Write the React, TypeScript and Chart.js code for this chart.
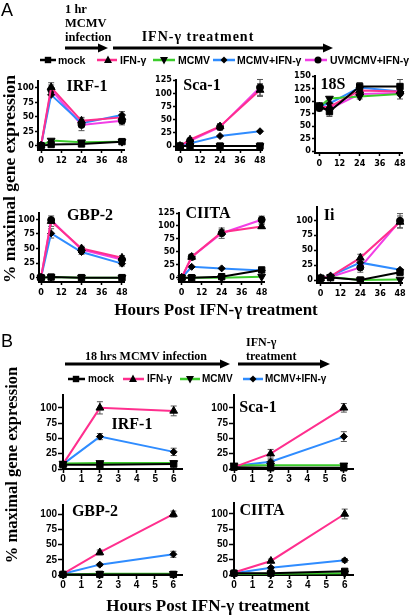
import React, { useEffect, useRef } from "react";
import { Chart, registerables } from "chart.js";
Chart.register(...registerables);

const W = 410;
const H = 616;

// ---------- Panel A (1 hr MCMV, then IFN-γ) ----------
const hoursA = [0, 6, 24, 48];
const hourTicksA = [0, 12, 24, 36, 48];

const aIrf1Mock = [0, 2, 3, 7];
const aIrf1Ifn = [0, 101, 43, 49];
const aIrf1Mcmv = [0, 9, 6, 7];
const aIrf1McmvIfn = [0, 88, 39, 53];
const aIrf1Uv = [0, 97, 36, 43];
const aIrf1IfnErr = [0, 8, 6, 10];
const aIrf1UvErr = [0, 8, 10, 7];

const aSca1Mock = [0, 0, 0, 0];
const aSca1Ifn = [0, 12, 37, 106];
const aSca1Mcmv = [0, 0, 0, 0];
const aSca1McmvIfn = [0, 5, 19, 28];
const aSca1Uv = [0, 10, 36, 111];
const aSca1IfnErr = [0, 3, 5, 12];
const aSca1UvErr = [0, 3, 6, 15];

const a18sMock = [90, 79, 129, 129];
const a18sIfn = [88, 88, 121, 119];
const a18sMcmv = [88, 105, 109, 114];
const a18sMcmvIfn = [90, 95, 127, 119];
const a18sUv = [86, 84, 114, 116];
const a18sMockErr = [6, 10, 8, 14];
const a18sUvErr = [6, 12, 10, 12];

const aGbp2Mock = [0, 1, 0, 0];
const aGbp2Ifn = [0, 97, 50, 34];
const aGbp2Mcmv = [0, 1, 0, 0];
const aGbp2McmvIfn = [0, 76, 44, 24];
const aGbp2Uv = [0, 99, 48, 31];
const aGbp2IfnErr = [0, 9, 4, 4];
const aGbp2McmvIfnErr = [0, 8, 4, 4];

const aCiitaMock = [0, 0, 2, 15];
const aCiitaIfn = [0, 40, 88, 99];
const aCiitaMcmv = [0, 0, 0, 2];
const aCiitaMcmvIfn = [0, 21, 18, 14];
const aCiitaUv = [0, 40, 86, 112];
const aCiitaIfnErr = [0, 5, 5, 4];
const aCiitaUvErr = [0, 5, 10, 7];

const aIiMock = [3, 4, 0, 13];
const aIiIfn = [3, 6, 37, 97];
const aIiMcmv = [3, 5, 0, 1];
const aIiMcmvIfn = [3, 7, 29, 17];
const aIiUv = [3, 5, 21, 99];
const aIiIfnErr = [0, 3, 6, 10];
const aIiUvErr = [0, 4, 8, 12];

// ---------- Panel B (18 hrs MCMV, then IFN-γ) ----------
const hoursB = [0, 2, 6];
const hourTicksB = [0, 1, 2, 3, 4, 5, 6];

const bIrf1Mock = [7, 7, 8];
const bIrf1Ifn = [8, 100, 95];
const bIrf1Mcmv = [9, 10, 10];
const bIrf1McmvIfn = [8, 53, 28];
const bIrf1IfnErr = [0, 10, 8];
const bIrf1McmvIfnErr = [0, 5, 6];

const bSca1Mock = [3, 2, 2];
const bSca1Ifn = [3, 25, 100];
const bSca1Mcmv = [6, 6, 6];
const bSca1McmvIfn = [5, 12, 53];
const bSca1IfnErr = [0, 7, 7];
const bSca1McmvIfnErr = [0, 4, 8];

const bGbp2Mock = [1, 1, 1];
const bGbp2Ifn = [2, 37, 100];
const bGbp2Mcmv = [1, 2, 2];
const bGbp2McmvIfn = [2, 17, 34];
const bGbp2IfnErr = [0, 4, 5];
const bGbp2McmvIfnErr = [0, 2, 5];

const bCiitaMock = [3, 3, 6];
const bCiitaIfn = [4, 23, 100];
const bCiitaMcmv = [2, 2, 3];
const bCiitaMcmvIfn = [3, 12, 24];
const bCiitaIfnErr = [0, 3, 8];
const bCiitaMcmvIfnErr = [0, 2, 3];

const pctTicks = [0, 25, 50, 75, 100];
const pctTicks125 = [0, 25, 50, 75, 100, 125];
const pctTicks150 = [0, 25, 50, 75, 100, 125, 150];

// ---------- styles ----------
const PINK = "#ff2f8e";
const MAGENTA = "#f23ee6";
const GREEN = "#3ccc2c";
const BLUE = "#2f8cff";

const SERIES: Record<string, any> = {
  mock: { color: "#000000", style: "rect", rot: 0, r: 4.5 },
  ifn: { color: PINK, style: "triangle", rot: 0, r: 4.5 },
  mcmv: { color: GREEN, style: "triangle", rot: 180, r: 4.5 },
  mcmvIfn: { color: BLUE, style: "rectRot", rot: 0, r: 3.5 },
  uv: { color: MAGENTA, style: "circle", rot: 0, r: 3.5 },
};

const SERIF = '"Liberation Serif", "Times New Roman", Times, serif';
const SANS = '"Liberation Sans", Arial, Helvetica, sans-serif';
const NARROW = '"Liberation Sans Narrow", "Arial Narrow", "DejaVu Sans Condensed", "Liberation Sans", Arial, sans-serif';

type S = { key: string; values: number[]; err?: number[] };
type Spec = {
  x: number[];
  xt: number[];
  yt: number[];
  area: [number, number, number, number];
  xr: [number, number];
  yr: [number, number];
  kind: "A" | "B";
  series: S[];
};

const PANELS: Spec[] = [
  {
    kind: "A", x: hoursA, xt: hourTicksA, yt: pctTicks,
    area: [38, 81, 124, 150], xr: [-1.8, 49.2], yr: [-7.5, 112],
    series: [
      { key: "mock", values: aIrf1Mock },
      { key: "ifn", values: aIrf1Ifn, err: aIrf1IfnErr },
      { key: "mcmv", values: aIrf1Mcmv },
      { key: "mcmvIfn", values: aIrf1McmvIfn },
      { key: "uv", values: aIrf1Uv, err: aIrf1UvErr },
    ],
  },
  {
    kind: "A", x: hoursA, xt: hourTicksA, yt: pctTicks125,
    area: [176, 80, 262, 150], xr: [-2.4, 49.2], yr: [-7.5, 125],
    series: [
      { key: "mock", values: aSca1Mock },
      { key: "ifn", values: aSca1Ifn, err: aSca1IfnErr },
      { key: "mcmv", values: aSca1Mcmv },
      { key: "mcmvIfn", values: aSca1McmvIfn },
      { key: "uv", values: aSca1Uv, err: aSca1UvErr },
    ],
  },
  {
    kind: "A", x: hoursA, xt: hourTicksA, yt: pctTicks150,
    area: [315, 76, 402, 153], xr: [-2.6, 49.2], yr: [-4, 150],
    series: [
      { key: "mock", values: a18sMock, err: a18sMockErr },
      { key: "ifn", values: a18sIfn },
      { key: "mcmv", values: a18sMcmv },
      { key: "mcmvIfn", values: a18sMcmvIfn },
      { key: "uv", values: a18sUv, err: a18sUvErr },
    ],
  },
  {
    kind: "A", x: hoursA, xt: hourTicksA, yt: pctTicks,
    area: [39, 213, 124, 282], xr: [-1.2, 49.2], yr: [-7.5, 111],
    series: [
      { key: "mock", values: aGbp2Mock },
      { key: "ifn", values: aGbp2Ifn, err: aGbp2IfnErr },
      { key: "mcmv", values: aGbp2Mcmv },
      { key: "mcmvIfn", values: aGbp2McmvIfn, err: aGbp2McmvIfnErr },
      { key: "uv", values: aGbp2Uv },
    ],
  },
  {
    kind: "A", x: hoursA, xt: hourTicksA, yt: pctTicks125,
    area: [179, 213, 264, 282], xr: [-1.6, 49.4], yr: [-8.3, 125],
    series: [
      { key: "mock", values: aCiitaMock },
      { key: "ifn", values: aCiitaIfn, err: aCiitaIfnErr },
      { key: "mcmv", values: aCiitaMcmv },
      { key: "mcmvIfn", values: aCiitaMcmvIfn },
      { key: "uv", values: aCiitaUv, err: aCiitaUvErr },
    ],
  },
  {
    kind: "A", x: hoursA, xt: hourTicksA, yt: pctTicks,
    area: [317, 207, 402, 283], xr: [-2.2, 49.2], yr: [-5, 122],
    series: [
      { key: "mock", values: aIiMock },
      { key: "ifn", values: aIiIfn, err: aIiIfnErr },
      { key: "mcmv", values: aIiMcmv },
      { key: "mcmvIfn", values: aIiMcmvIfn },
      { key: "uv", values: aIiUv, err: aIiUvErr },
    ],
  },
  {
    kind: "B", x: hoursB, xt: hourTicksB, yt: pctTicks,
    area: [63, 395, 182, 469], xr: [0, 6.45], yr: [0, 121],
    series: [
      { key: "mock", values: bIrf1Mock },
      { key: "ifn", values: bIrf1Ifn, err: bIrf1IfnErr },
      { key: "mcmv", values: bIrf1Mcmv },
      { key: "mcmvIfn", values: bIrf1McmvIfn, err: bIrf1McmvIfnErr },
    ],
  },
  {
    kind: "B", x: hoursB, xt: hourTicksB, yt: pctTicks,
    area: [234, 395, 353, 469], xr: [0, 6.5], yr: [0, 121],
    series: [
      { key: "mock", values: bSca1Mock },
      { key: "ifn", values: bSca1Ifn, err: bSca1IfnErr },
      { key: "mcmv", values: bSca1Mcmv },
      { key: "mcmvIfn", values: bSca1McmvIfn, err: bSca1McmvIfnErr },
    ],
  },
  {
    kind: "B", x: hoursB, xt: hourTicksB, yt: pctTicks,
    area: [63, 505, 182, 575], xr: [0, 6.47], yr: [0, 115],
    series: [
      { key: "mock", values: bGbp2Mock },
      { key: "ifn", values: bGbp2Ifn, err: bGbp2IfnErr },
      { key: "mcmv", values: bGbp2Mcmv },
      { key: "mcmvIfn", values: bGbp2McmvIfn, err: bGbp2McmvIfnErr },
    ],
  },
  {
    kind: "B", x: hoursB, xt: hourTicksB, yt: pctTicks,
    area: [234, 503, 353, 575], xr: [0, 6.45], yr: [0, 118],
    series: [
      { key: "mock", values: bCiitaMock },
      { key: "ifn", values: bCiitaIfn, err: bCiitaIfnErr },
      { key: "mcmv", values: bCiitaMcmv },
      { key: "mcmvIfn", values: bCiitaMcmvIfn, err: bCiitaMcmvIfnErr },
    ],
  },
];

const errorBars = {
  id: "errorBars",
  beforeDatasetsDraw(chart: any) {
    const ctx = chart.ctx;
    const ys = chart.scales.y;
    chart.data.datasets.forEach((ds: any, i: number) => {
      const err = ds.errors;
      if (!err) return;
      const meta = chart.getDatasetMeta(i);
      ctx.save();
      ctx.strokeStyle = "#555";
      ctx.lineWidth = 1;
      meta.data.forEach((pt: any, j: number) => {
        const e = err[j];
        if (!e) return;
        const v = ds.data[j].y;
        const top = ys.getPixelForValue(v + e);
        const bot = ys.getPixelForValue(v - e);
        ctx.beginPath();
        ctx.moveTo(pt.x, top);
        ctx.lineTo(pt.x, bot);
        ctx.moveTo(pt.x - 3, top);
        ctx.lineTo(pt.x + 3, top);
        ctx.moveTo(pt.x - 3, bot);
        ctx.lineTo(pt.x + 3, bot);
        ctx.stroke();
      });
      ctx.restore();
    });
  },
};

function buildConfig(p: Spec): any {
  const [l, t, r, b] = p.area;
  const yW = 30;
  const xH = 22;
  const isA = p.kind === "A";
  const tickFont = isA
    ? { family: NARROW, size: 9, weight: "bold" as const }
    : { family: SANS, size: 10, weight: "bold" as const };
  return {
    type: "line",
    data: {
      datasets: p.series.map((s) => {
        const st = SERIES[s.key];
        return {
          data: s.values.map((v, i) => ({ x: p.x[i], y: v })),
          errors: s.err,
          borderColor: st.color,
          backgroundColor: "#000",
          borderWidth: 2,
          pointStyle: st.style,
          pointRotation: st.rot,
          pointRadius: st.r,
          pointBackgroundColor: "#000",
          pointBorderColor: "#000",
          pointBorderWidth: 1,
          tension: 0,
          fill: false,
          clip: false,
        };
      }),
    },
    options: {
      animation: false,
      responsive: false,
      devicePixelRatio: 1,
      events: [],
      layout: { padding: { left: l - yW, top: t, right: W - r, bottom: H - b - xH } },
      plugins: { legend: { display: false }, tooltip: { enabled: false }, title: { display: false } },
      scales: {
        x: {
          type: "linear",
          min: p.xr[0],
          max: p.xr[1],
          afterBuildTicks: (sc: any) => { sc.ticks = p.xt.map((v) => ({ value: v })); },
          afterFit: (sc: any) => { sc.height = xH; },
          grid: { display: true, drawOnChartArea: false, drawTicks: true, tickLength: isA ? 3 : 4, tickWidth: 1.5, tickColor: "#000", color: "#000" },
          border: { display: true, color: "#000", width: 2 },
          ticks: { font: tickFont, color: "#000", padding: isA ? 2 : 0, autoSkip: false, maxRotation: 0, minRotation: 0, callback: (v: any) => String(v) },
        },
        y: {
          type: "linear",
          min: p.yr[0],
          max: p.yr[1],
          afterBuildTicks: (sc: any) => { sc.ticks = p.yt.map((v) => ({ value: v })); },
          afterFit: (sc: any) => { sc.width = yW; },
          grid: { display: true, drawOnChartArea: false, drawTicks: true, tickLength: isA ? 3 : 5, tickWidth: 1.5, tickColor: "#000", color: "#000" },
          border: { display: true, color: "#000", width: 2 },
          ticks: { font: tickFont, color: "#000", padding: 1, autoSkip: false, callback: (v: any) => String(v) },
        },
      },
    },
    plugins: [errorBars],
  };
}

function ChartLayer({ spec }: { spec: Spec }) {
  const ref = useRef<HTMLCanvasElement | null>(null);
  useEffect(() => {
    if (!ref.current) return;
    const chart = new Chart(ref.current, buildConfig(spec));
    return () => chart.destroy();
  }, [spec]);
  return (
    <canvas
      ref={ref}
      width={W}
      height={H}
      style={{ position: "absolute", left: 0, top: 0, width: W, height: H }}
    />
  );
}

function Txt(props: {
  x: number; y: number; size: number; family?: string; weight?: any; anchor?: "left" | "center";
  rotate?: boolean; ls?: number; children: React.ReactNode;
}) {
  const { x, y, size, family = SERIF, weight = "bold", anchor = "center", rotate, ls = 0, children } = props;
  const tf = anchor === "left" ? "translate(0,-50%)" : "translate(-50%,-50%)";
  return (
    <div
      style={{
        position: "absolute", left: x, top: y, fontSize: size, fontFamily: family, fontWeight: weight,
        lineHeight: 1, whiteSpace: "nowrap", color: "#000", letterSpacing: ls,
        transform: tf + (rotate ? " rotate(-90deg)" : ""),
      }}
    >
      {children}
    </div>
  );
}

function Marker({ kind, cx, cy }: { kind: string; cx: number; cy: number }) {
  if (kind === "mock") return <rect x={cx - 3.2} y={cy - 3.2} width={6.4} height={6.4} fill="#000" />;
  if (kind === "ifn") return <polygon points={`${cx},${cy - 4.5} ${cx - 4},${cy + 3} ${cx + 4},${cy + 3}`} fill="#000" />;
  if (kind === "mcmv") return <polygon points={`${cx},${cy + 4.5} ${cx - 4},${cy - 3} ${cx + 4},${cy - 3}`} fill="#000" />;
  if (kind === "mcmvIfn") return <polygon points={`${cx},${cy - 3.5} ${cx + 3.5},${cy} ${cx},${cy + 3.5} ${cx - 3.5},${cy}`} fill="#000" />;
  return <circle cx={cx} cy={cy} r={3.5} fill="#000" />;
}

function LegendLine({ kind, x1, x2, mx, y }: { kind: string; x1: number; x2: number; mx: number; y: number }) {
  return (
    <g>
      <line x1={x1} x2={x2} y1={y} y2={y} stroke={SERIES[kind].color} strokeWidth={2.5} />
      <Marker kind={kind} cx={mx} cy={y} />
    </g>
  );
}

function Arrow({ x1, x2, y }: { x1: number; x2: number; y: number }) {
  return (
    <g>
      <line x1={x1} x2={x2 - 8} y1={y} y2={y} stroke="#000" strokeWidth={3} />
      <polygon points={`${x2},${y} ${x2 - 10},${y - 4.5} ${x2 - 10},${y + 4.5}`} fill="#000" />
    </g>
  );
}

export default function App() {
  return (
    <div style={{ position: "absolute", left: 0, top: 0, width: W, height: H, background: "#fff", overflow: "hidden" }}>
      {PANELS.map((p, i) => (
        <ChartLayer key={i} spec={p} />
      ))}
      <svg width={W} height={H} style={{ position: "absolute", left: 0, top: 0 }}>
        <Arrow x1={65} x2={108} y={48} />
        <Arrow x1={113} x2={333} y={48} />
        <Arrow x1={65} x2={230} y={364} />
        <Arrow x1={238} x2={330} y={364} />
        <LegendLine kind="mock" x1={40} x2={56} mx={48} y={60} />
        <LegendLine kind="ifn" x1={97} x2={117} mx={108} y={60} />
        <LegendLine kind="mcmv" x1={153} x2={175} mx={164} y={60} />
        <LegendLine kind="mcmvIfn" x1={213} x2={235} mx={224} y={60} />
        <LegendLine kind="uv" x1={305} x2={327} mx={318} y={60} />
        <LegendLine kind="mock" x1={68} x2={85} mx={76} y={379} />
        <LegendLine kind="ifn" x1={123} x2={144} mx={133} y={379} />
        <LegendLine kind="mcmv" x1={180} x2={200} mx={190} y={379} />
        <LegendLine kind="mcmvIfn" x1={243} x2={263} mx={253} y={379} />
      </svg>

      {/* Panel A header */}
      <Txt x={7} y={10} size={18} family={SANS} weight="normal">A</Txt>
      <Txt x={65} y={9} size={12.5} anchor="left">1 hr</Txt>
      <Txt x={65} y={23} size={12.5} anchor="left">MCMV</Txt>
      <Txt x={65} y={37} size={12.5} anchor="left">infection</Txt>
      <Txt x={198} y={37} size={14} ls={1}>IFN-γ treatment</Txt>
      <Txt x={58} y={60} size={10.5} family={SANS} anchor="left">mock</Txt>
      <Txt x={120} y={60} size={10.5} family={SANS} anchor="left">IFN-γ</Txt>
      <Txt x={178} y={60} size={10.5} family={SANS} anchor="left">MCMV</Txt>
      <Txt x={237} y={60} size={10.5} family={SANS} anchor="left">MCMV+IFN-γ</Txt>
      <Txt x={330} y={60} size={10.5} family={SANS} anchor="left">UVMCMV+IFN-γ</Txt>
      <Txt x={10} y={179} size={17.5} rotate>% maximal gene expression</Txt>

      {/* Panel A titles */}
      <Txt x={87} y={86} size={16}>IRF-1</Txt>
      <Txt x={202} y={85} size={16}>Sca-1</Txt>
      <Txt x={333} y={84} size={16}>18S</Txt>
      <Txt x={90} y={215} size={16}>GBP-2</Txt>
      <Txt x={208} y={213} size={16}>CIITA</Txt>
      <Txt x={329} y={215} size={16}>Ii</Txt>
      <Txt x={216} y={309} size={17}>Hours Post IFN-γ treatment</Txt>

      {/* Panel B header */}
      <Txt x={7} y={341} size={18} family={SANS} weight="normal">B</Txt>
      <Txt x={146} y={356} size={12}>18 hrs MCMV infection</Txt>
      <Txt x={246} y={342} size={12} anchor="left">IFN-γ</Txt>
      <Txt x={246} y={356} size={12} anchor="left">treatment</Txt>
      <Txt x={88} y={379} size={10} family={SANS} anchor="left">mock</Txt>
      <Txt x={147} y={379} size={10} family={SANS} anchor="left">IFN-γ</Txt>
      <Txt x={202} y={379} size={10} family={SANS} anchor="left">MCMV</Txt>
      <Txt x={265} y={379} size={10} family={SANS} anchor="left">MCMV+IFN-γ</Txt>
      <Txt x={12} y={465} size={16.5} rotate>% maximal gene expression</Txt>

      {/* Panel B titles */}
      <Txt x={132} y={424} size={16}>IRF-1</Txt>
      <Txt x={258} y={407} size={16}>Sca-1</Txt>
      <Txt x={95} y={511} size={16}>GBP-2</Txt>
      <Txt x={262} y={510} size={16}>CIITA</Txt>
      <Txt x={208} y={605} size={17}>Hours Post IFN-γ treatment</Txt>
    </div>
  );
}
